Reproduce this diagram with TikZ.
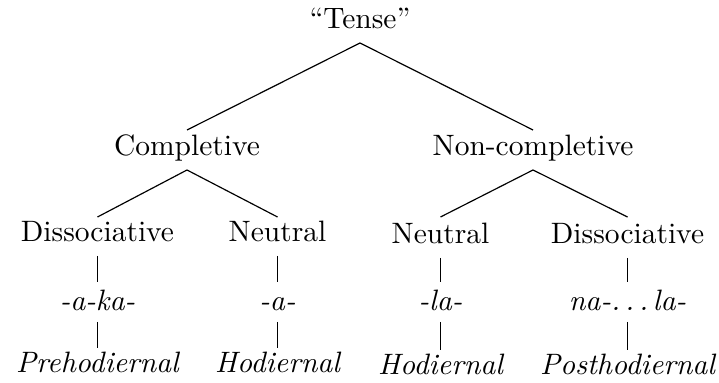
\documentclass[tikz,border=0pt]{standalone}
\usetikzlibrary{calc}
\begin{document}
\begin{tikzpicture}[x=0.339pt,y=-0.339pt,
  lbl/.style={anchor=base,inner sep=0pt,font=\fontsize{10}{12}\selectfont},
  edge/.style={line width=0.4pt,black}]
\useasboundingbox (0,0) rectangle (719,383);
\node[lbl] (tense) at (360,29) {``Tense''};
\node[lbl] (comp) at (187,156) {Completive};
\node[lbl] (ncomp) at (533,156) {Non-completive};
\node[lbl] (dis1) at (97.5,242) {Dissociative};
\node[lbl] (neu1) at (277.5,242) {Neutral};
\node[lbl] (neu2) at (440.5,244) {Neutral};
\node[lbl] (dis2) at (627.5,244) {Dissociative};
\node[lbl] (m1) at (97.5,311) {\itshape -a-ka-};
\node[lbl] (m2) at (277.5,311) {\itshape -a-};
\node[lbl] (m3) at (440.5,311) {\itshape -la-};
\node[lbl] (m4) at (627.5,311) {\itshape na-.\kern.166em.\kern.166em.\kern.166em la-};
\node[lbl] (g1) at (97.5,373) {\itshape Prehodiernal};
\node[lbl] (g2) at (277.5,373) {\itshape Hodiernal};
\node[lbl] (g3) at (440.5,375) {\itshape Hodiernal};
\node[lbl] (g4) at (627.5,375) {\itshape Posthodiernal};
% tree edges
\draw[edge] ($(tense.base)+(0,14)$) -- ($(comp.base)+(0,-26)$);
\draw[edge] ($(tense.base)+(0,14)$) -- ($(ncomp.base)+(0,-26)$);
\draw[edge] ($(comp.base)+(0,14)$) -- ($(dis1.base)+(0,-25)$);
\draw[edge] ($(comp.base)+(0,14)$) -- ($(neu1.base)+(0,-25)$);
\draw[edge] ($(ncomp.base)+(0,14)$) -- ($(neu2.base)+(0,-27)$);
\draw[edge] ($(ncomp.base)+(0,14)$) -- ($(dis2.base)+(0,-27)$);
% vertical bars
\foreach \a/\b/\c in {dis1/m1/g1,neu1/m2/g2,neu2/m3/g3,dis2/m4/g4}{
  \draw[edge] ($(\a.base)+(0,14)$) -- ($(\b.base)+(0,-29)$);
  \draw[edge] ($(\b.base)+(0,11)$) -- ($(\c.base)+(0,-25)$);
}
\end{tikzpicture}
\end{document}
